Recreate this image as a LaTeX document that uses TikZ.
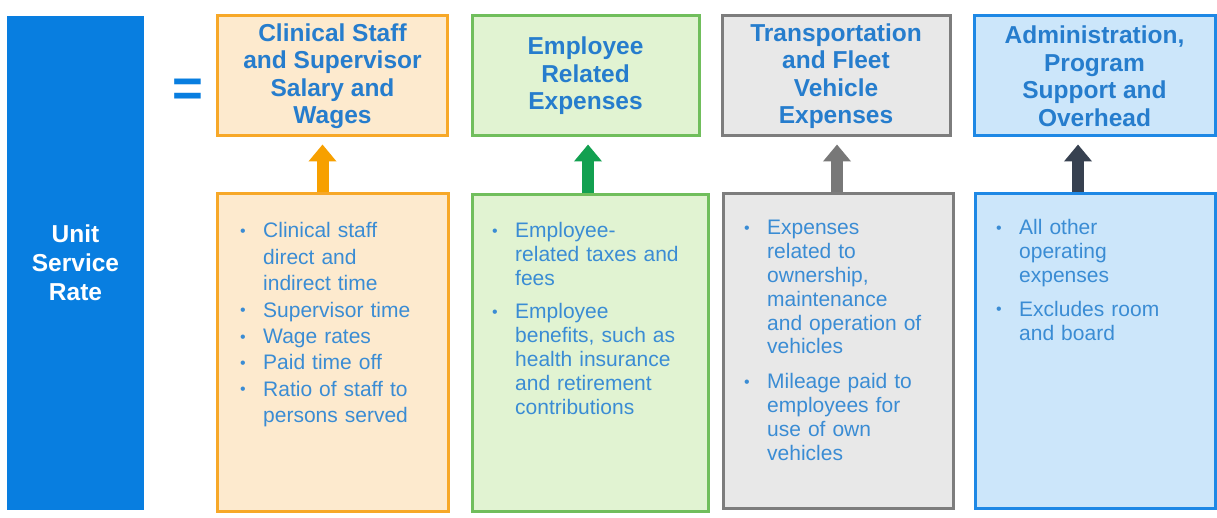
\documentclass[tikz,border=0pt]{standalone}
\usepackage{fontspec}
\setmainfont{Liberation Sans}
\usetikzlibrary{arrows.meta}
\definecolor{unitblue}{RGB}{8,126,224}
\definecolor{titleblue}{RGB}{38,125,205}
\definecolor{bulletblue}{RGB}{58,140,212}
\definecolor{orBorder}{RGB}{247,168,40}
\definecolor{orFill}{RGB}{253,234,206}
\definecolor{grBorder}{RGB}{112,190,92}
\definecolor{grFill}{RGB}{225,243,210}
\definecolor{gyBorder}{RGB}{125,125,125}
\definecolor{gyFill}{RGB}{232,232,232}
\definecolor{blBorder}{RGB}{30,136,229}
\definecolor{blFill}{RGB}{204,230,250}
\definecolor{orArrow}{RGB}{247,160,0}
\definecolor{grArrow}{RGB}{18,160,80}
\definecolor{gyArrow}{RGB}{120,120,120}
\definecolor{dkArrow}{RGB}{55,65,80}
\newcommand\itm[1]{\noindent\hangindent=23pt\hangafter=1\makebox[23pt][l]{\raisebox{1.5pt}{\fontsize{16}{16}\selectfont\textbullet}}#1\par}
\tikzset{
  box/.style={draw, line width=3pt, rectangle, inner sep=0pt},
  toptitle/.style={text=titleblue, font=\fontsize{24.5}{27.5}\selectfont\bfseries, align=center},
  bultext/.style={text=bulletblue, anchor=base west, inner sep=0pt, text width=#1, align=left},
  uparrow/.style={line width=12pt, -{Triangle[width=27pt,length=17pt]}},
}
\begin{document}
\begin{tikzpicture}[x=1pt,y=-1pt]
\useasboundingbox (0,0) rectangle (1217,518);
\fill[white] (0,0) rectangle (1217,518);
% left block
\node[fill=unitblue, minimum width=137pt, minimum height=494pt, inner sep=0pt] (usr) at (75.5,263) {};
\node[text=unitblue, font=\fontsize{44}{44}\selectfont\bfseries, inner sep=0pt, anchor=base] (eq) at (187.5,107) {\scalebox{1.2}[1.2]{=}};
\node[text=white, font=\fontsize{24.5}{29}\selectfont\bfseries, align=center] (usrt) at (usr.center) {Unit\\Service\\Rate};
% top boxes
\node[box, draw=orBorder, fill=orFill, minimum width=230pt, minimum height=120pt, toptitle] (t1) at (332.5,76) {Clinical Staff\\and Supervisor\\Salary and\\Wages};
\node[box, draw=grBorder, fill=grFill, minimum width=227pt, minimum height=120pt, toptitle] (t2) at (585.5,76) {Employee\\Related\\Expenses};
\node[box, draw=gyBorder, fill=gyFill, minimum width=228pt, minimum height=120pt, toptitle] (t3) at (836,76) {Transportation\\and Fleet\\Vehicle\\Expenses};
\node[box, draw=blBorder, fill=blFill, minimum width=241pt, minimum height=120pt, toptitle] (t4) at (1094.5,76) {Administration,\\Program\\Support and\\Overhead};
% bottom boxes
\node[box, draw=orBorder, fill=orFill, minimum width=231pt, minimum height=317pt] (b1) at (333,352.5) {};
\node[box, draw=grBorder, fill=grFill, minimum width=236pt, minimum height=316pt] (b2) at (590,353) {};
\node[box, draw=gyBorder, fill=gyFill, minimum width=230pt, minimum height=314pt] (b3) at (838,351) {};
\node[box, draw=blBorder, fill=blFill, minimum width=240pt, minimum height=314pt] (b4) at (1095,351) {};
% bullet texts
\node[bultext=200pt, font=\fontsize{21}{26.4}\selectfont] (b1t) at (240,238) {%
\itm{Clinical staff\newline direct and\newline indirect time}%
\itm{Supervisor time}%
\itm{Wage rates}%
\itm{Paid time off}%
\itm{Ratio of staff to\newline persons served}};
\node[bultext=205pt, font=\fontsize{21}{23.8}\selectfont] (b2t) at (492,238) {\setlength{\parskip}{9.5pt}%
\itm{Employee-\newline related taxes and\newline fees}%
\itm{Employee\newline benefits, such as\newline health insurance\newline and retirement\newline contributions}};
\node[bultext=200pt, font=\fontsize{21}{23.8}\selectfont] (b3t) at (744,235) {\setlength{\parskip}{11pt}%
\itm{Expenses\newline related to\newline ownership,\newline maintenance\newline and operation of\newline vehicles}%
\itm{Mileage paid to\newline employees for\newline use of own\newline vehicles}};
\node[bultext=200pt, font=\fontsize{21}{23.8}\selectfont] (b4t) at (996,235) {\setlength{\parskip}{10pt}%
\itm{All other\newline operating\newline expenses}%
\itm{Excludes room\newline and board}};
% arrows
\draw[uparrow, orArrow] (b1.north -| 322.5,0) -- ([yshift=-7pt]t1.south -| 322.5,0);
\draw[uparrow, grArrow] (b2.north -| 588,0) -- ([yshift=-7pt]t2.south -| 588,0);
\draw[uparrow, gyArrow] (b3.north -| 837,0) -- ([yshift=-7pt]t3.south -| 837,0);
\draw[uparrow, dkArrow] (b4.north -| 1078,0) -- ([yshift=-7pt]t4.south -| 1078,0);
\end{tikzpicture}
\end{document}
